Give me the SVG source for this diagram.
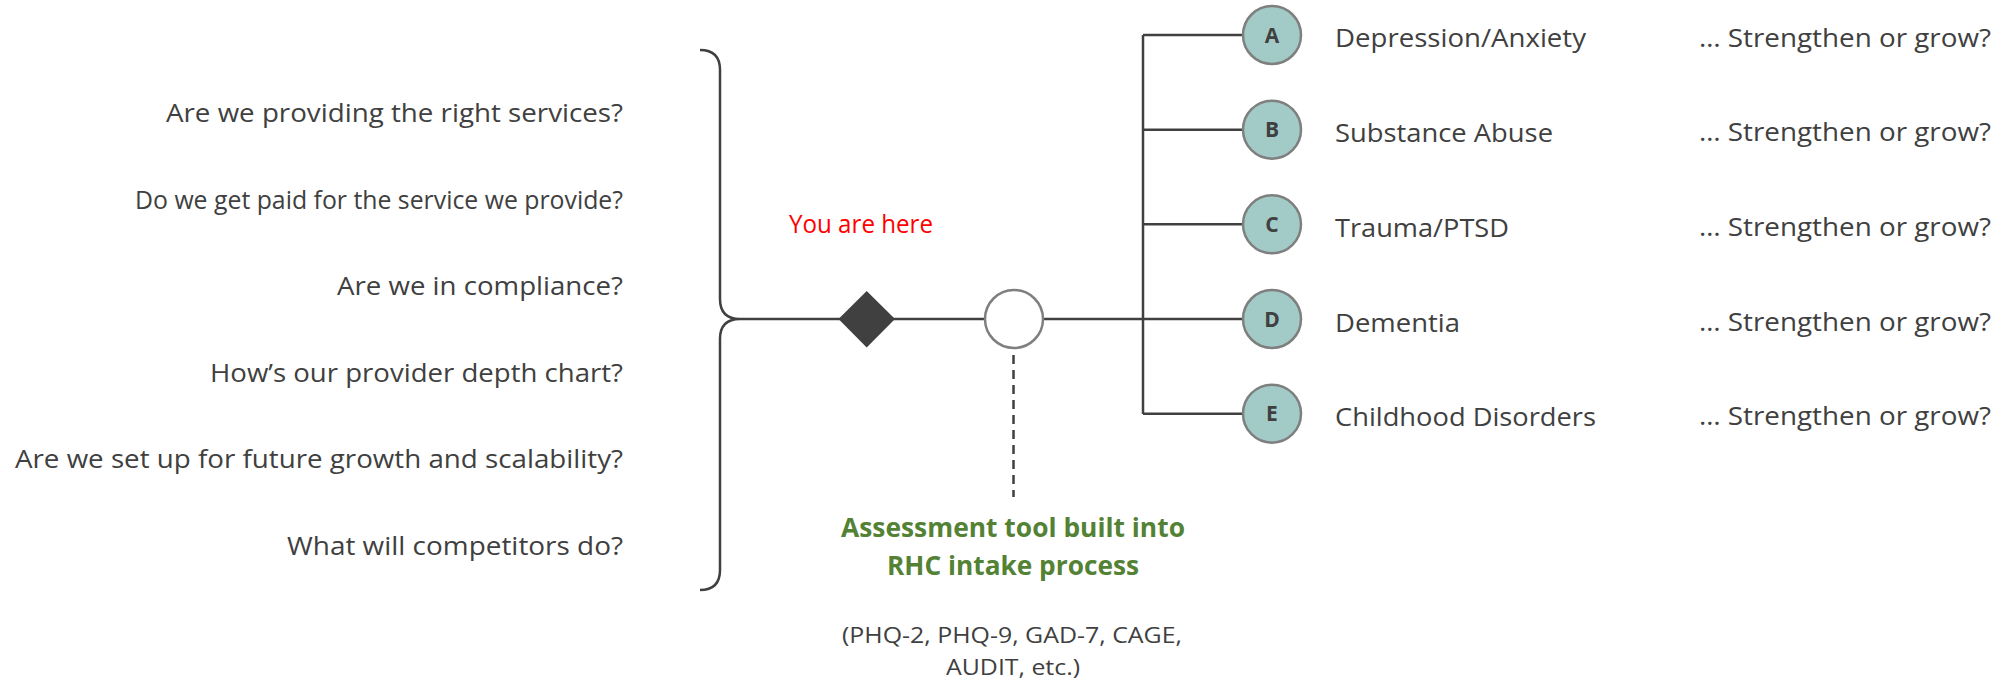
<svg xmlns="http://www.w3.org/2000/svg" width="2003" height="683" viewBox="0 0 2003 683">
<style>
.t{font-family:"Open Sans","Liberation Sans",sans-serif;font-size:26px;fill:#404040}
.q{font-family:"Open Sans","Liberation Sans",sans-serif;font-size:26px;fill:#404040}
.ln{fill:none;stroke:#404040;stroke-width:2.5}
.lt{font-family:"Open Sans","Liberation Sans",sans-serif;font-size:21px;font-weight:bold;fill:#404040;text-anchor:middle}
.bub{fill:#a2cbc7;stroke:#7f7f7f;stroke-width:2.5}
.green{font-family:"Open Sans","Liberation Sans",sans-serif;font-size:27px;font-weight:bold;fill:#548235}
.small{font-family:"Open Sans","Liberation Sans",sans-serif;font-size:22px;fill:#404040}
</style>
<rect width="2003" height="683" fill="#ffffff"/>
<g id="questions">
<text class="q" x="166" y="122" textLength="457" lengthAdjust="spacingAndGlyphs">Are we providing the right services?</text>
<text class="q" x="135" y="208.5" textLength="488" lengthAdjust="spacingAndGlyphs">Do we get paid for the service we provide?</text>
<text class="q" x="337" y="295" textLength="286" lengthAdjust="spacingAndGlyphs">Are we in compliance?</text>
<text class="q" x="210" y="381.5" textLength="413" lengthAdjust="spacingAndGlyphs">How’s our provider depth chart?</text>
<text class="q" x="15" y="468" textLength="608" lengthAdjust="spacingAndGlyphs">Are we set up for future growth and scalability?</text>
<text class="q" x="287" y="554.5" textLength="336" lengthAdjust="spacingAndGlyphs">What will competitors do?</text>
</g>
<g id="connectors">
<path class="ln" d="M700,50 Q720,50 720,70 L720,299 Q720,319 740,319 Q720,319 720,339 L720,570 Q720,590 700,590"/>
<path class="ln" stroke-width="3" d="M740,319 L1143,319"/>
<path class="ln" d="M1143,35 L1143,414"/>
<path class="ln" d="M1143,35 L1243,35 M1143,129.7 L1243,129.7 M1143,224.3 L1243,224.3 M1143,319 L1243,319 M1143,413.7 L1243,413.7"/>
<path class="ln" stroke-width="2.5" stroke-dasharray="9,6" d="M1013.5,355 L1013.5,497"/>
</g>
<g id="you-are-here">
<path d="M866.7,291 L895,319 L866.7,347.5 L838.5,319 Z" fill="#404040"/>
<text x="789" y="233" font-family="Open Sans, Liberation Sans, sans-serif" font-size="25" fill="#ff0000" textLength="144" lengthAdjust="spacingAndGlyphs">You are here</text>
</g>
<g id="assessment">
<circle cx="1014" cy="319" r="29" fill="#ffffff" stroke="#7f7f7f" stroke-width="2.5"/>
<text class="green" x="841" y="537" textLength="344" lengthAdjust="spacingAndGlyphs">Assessment tool built into</text>
<text class="green" x="887" y="575" textLength="252" lengthAdjust="spacingAndGlyphs">RHC intake process</text>
<text class="small" x="842" y="643" textLength="340" lengthAdjust="spacingAndGlyphs">(PHQ-2, PHQ-9, GAD-7, CAGE,</text>
<text class="small" x="946" y="675" textLength="134" lengthAdjust="spacingAndGlyphs">AUDIT, etc.)</text>
</g>
<g id="node-A">
<circle class="bub" cx="1272" cy="35" r="29"/>
<text class="lt" x="1272" y="42.5">A</text>
<text class="t" x="1335" y="47" textLength="251" lengthAdjust="spacingAndGlyphs">Depression/Anxiety</text>
<text class="t" x="1699" y="46.5" textLength="292" lengthAdjust="spacingAndGlyphs">… Strengthen or grow?</text>
</g>
<g id="node-B">
<circle class="bub" cx="1272" cy="129.7" r="29"/>
<text class="lt" x="1272" y="137.2">B</text>
<text class="t" x="1335" y="142" textLength="218" lengthAdjust="spacingAndGlyphs">Substance Abuse</text>
<text class="t" x="1699" y="141" textLength="292" lengthAdjust="spacingAndGlyphs">… Strengthen or grow?</text>
</g>
<g id="node-C">
<circle class="bub" cx="1272" cy="224.3" r="29"/>
<text class="lt" x="1272" y="231.8">C</text>
<text class="t" x="1335" y="237" textLength="174" lengthAdjust="spacingAndGlyphs">Trauma/PTSD</text>
<text class="t" x="1699" y="236" textLength="292" lengthAdjust="spacingAndGlyphs">… Strengthen or grow?</text>
</g>
<g id="node-D">
<circle class="bub" cx="1272" cy="319" r="29"/>
<text class="lt" x="1272" y="326.5">D</text>
<text class="t" x="1335" y="331.5" textLength="125" lengthAdjust="spacingAndGlyphs">Dementia</text>
<text class="t" x="1699" y="330.5" textLength="292" lengthAdjust="spacingAndGlyphs">… Strengthen or grow?</text>
</g>
<g id="node-E">
<circle class="bub" cx="1272" cy="413.7" r="29"/>
<text class="lt" x="1272" y="421.2">E</text>
<text class="t" x="1335" y="426" textLength="261" lengthAdjust="spacingAndGlyphs">Childhood Disorders</text>
<text class="t" x="1699" y="425" textLength="292" lengthAdjust="spacingAndGlyphs">… Strengthen or grow?</text>
</g>
</svg>
